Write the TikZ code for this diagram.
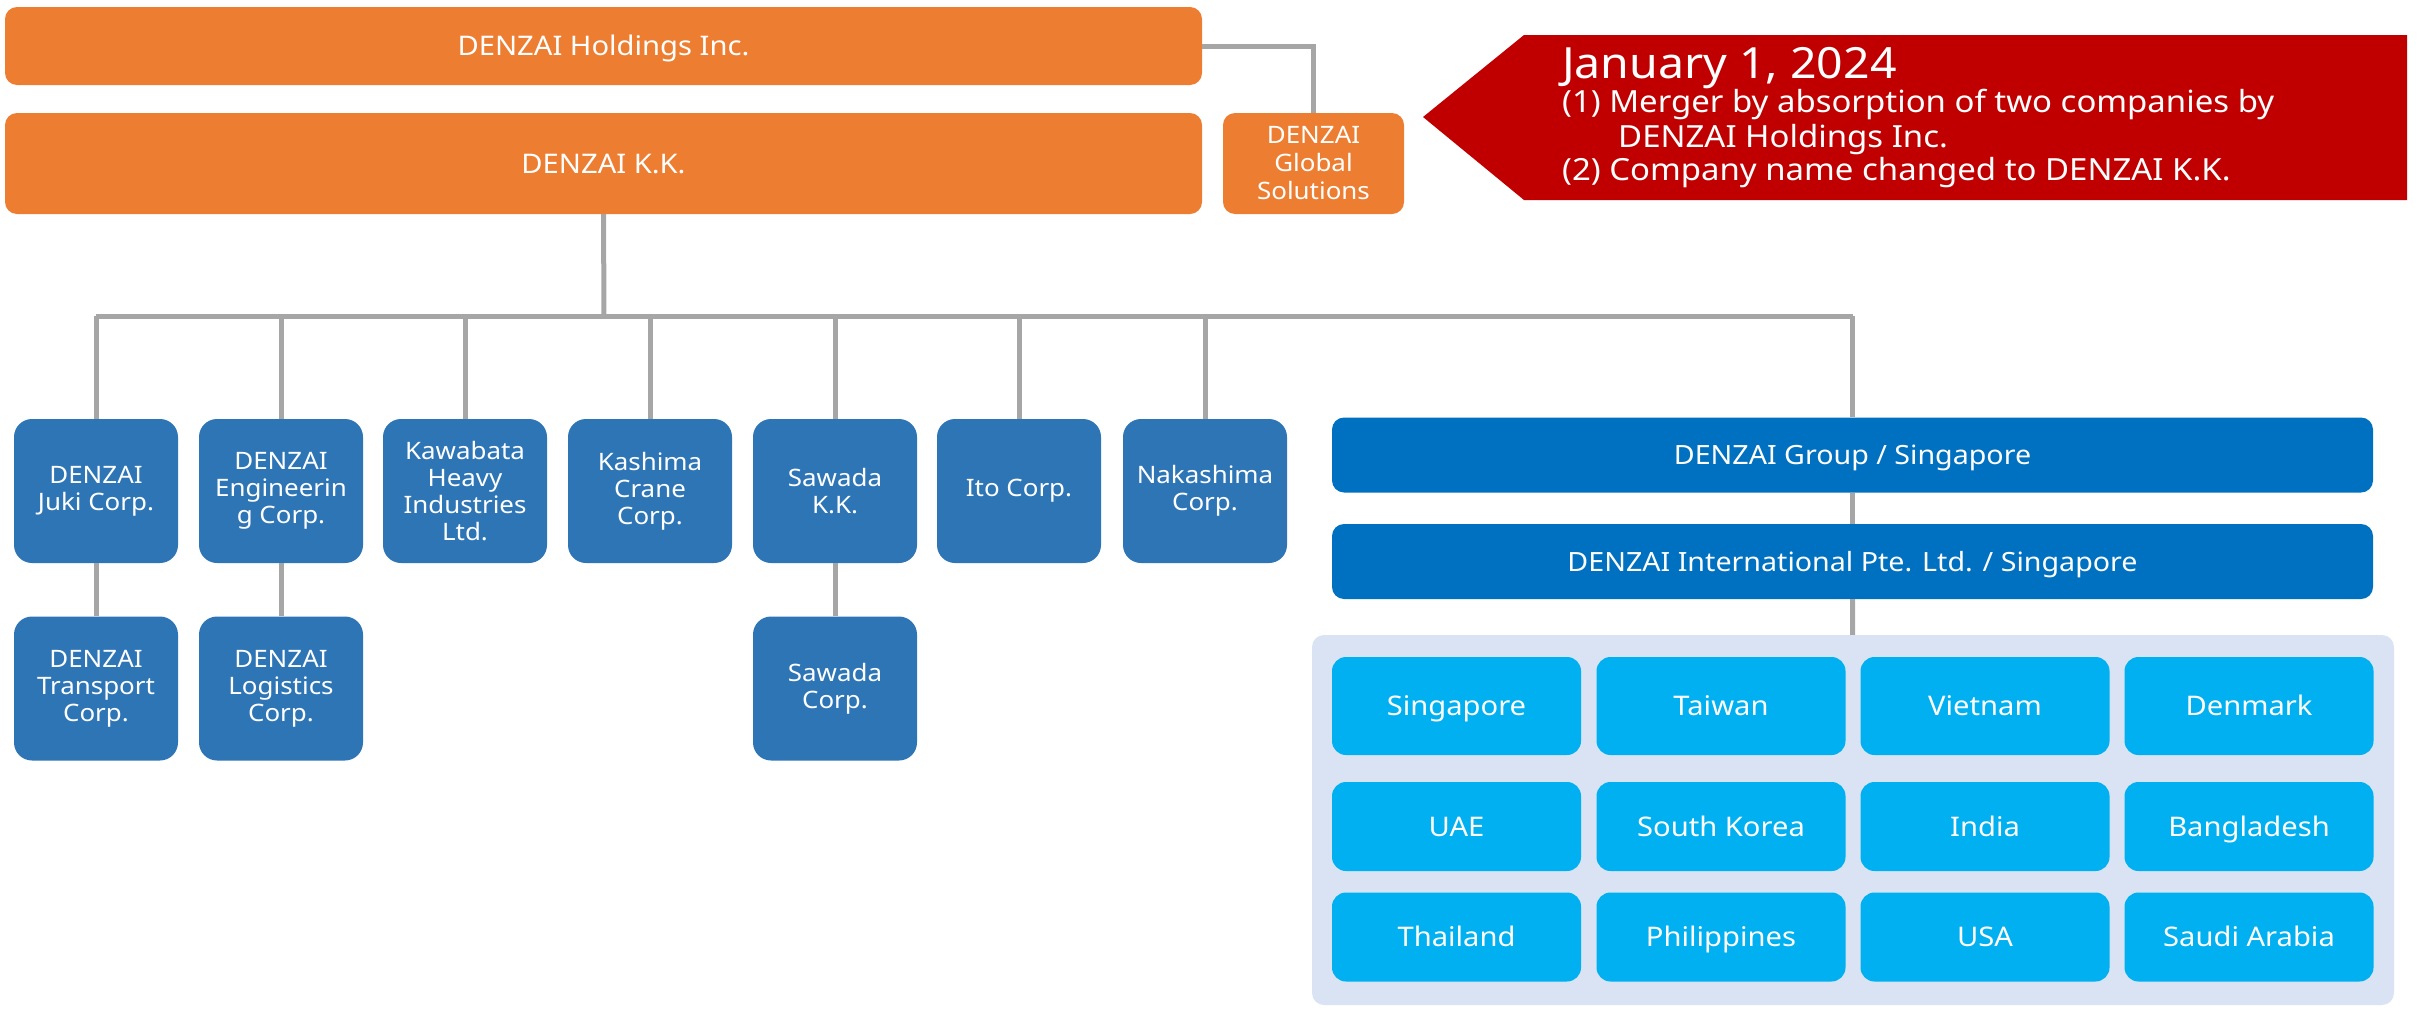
\documentclass[tikz,border=0pt]{standalone}
\usepackage{fontspec}
\setmainfont{Noto Sans}[FakeStretch=1.08]
\definecolor{dzorange}{HTML}{ED7D31}
\definecolor{dzblue}{HTML}{2E75B6}
\definecolor{dzgroup}{HTML}{0070C0}
\definecolor{dzcountry}{HTML}{00B0F0}
\definecolor{dzpanel}{HTML}{DAE3F3}
\definecolor{dzred}{HTML}{C00000}
\definecolor{dzgray}{HTML}{A6A6A6}
\begin{document}
\begin{tikzpicture}[
	x = 1pt, y = -1pt,
	every node/.style = {inner sep = 0pt, align = center, text = white},
	oneline/.style = {text height = 19.3pt, text depth = 0pt},
	headbox/.style = {fill = dzorange, rounded corners = 12pt, font = \fontsize{27}{32}\selectfont},
	subbox/.style = {fill = dzblue, rounded corners = 18pt, minimum width = 164pt, minimum height = 144pt, font = \fontsize{24}{27}\selectfont},
	groupbox/.style = {oneline, fill = dzgroup, rounded corners = 12pt, minimum width = 1041pt, minimum height = 75pt, font = \fontsize{26.5}{30}\selectfont},
	countrybox/.style = {oneline, fill = dzcountry, rounded corners = 14pt, minimum width = 249pt, font = \fontsize{27}{30}\selectfont},
	notetext/.style = {anchor = base west, font = \fontsize{30.5}{34}\selectfont},
	conn/.style = {draw = dzgray, line width = 5pt}]

	\useasboundingbox (0,0) rectangle (2420,1009);

	% top of the group
	\node[headbox, oneline, minimum width = 1197pt, minimum height = 78pt] (hold) at (603.5,46) {DENZAI Holdings Inc.};
	\node[headbox, oneline, minimum width = 1197pt, minimum height = 101pt] (kk) at (603.5,163.5) {DENZAI K.K.};
	\node[headbox, minimum width = 181pt, minimum height = 101pt, font = \fontsize{24}{28}\selectfont] (glob) at (1313.5,163.5) {DENZAI\\Global\\Solutions};
	\draw[conn] (hold.east) -| (glob.north);

	% callout
	\fill[dzred] (1423,117) -- (1524,35) -- (2407,35) -- (2407,200) -- (1524,200) -- cycle;
	\node[notetext, font = \fontsize{43}{46}\selectfont] (date) at (1562,78) {January 1, 2024};
	\node[notetext] (noteA) at (1562,112) {(1) Merger by absorption of two companies by};
	\node[notetext] (noteB) at (1618,147) {DENZAI Holdings Inc.};
	\node[notetext] (noteC) at (1562,180) {(2) Company name changed to DENZAI K.K.};

	% subsidiaries
	\coordinate (bus) at (604,316);
	\node[subbox] (juki) at (96,491) {DENZAI\\Juki Corp.};
	\node[subbox] (eng) at (281,491) {DENZAI\\Engineerin\\g Corp.};
	\node[subbox] (kawa) at (465,491) {Kawabata\\Heavy\\Industries\\Ltd.};
	\node[subbox] (kashi) at (650,491) {Kashima\\Crane\\Corp.};
	\node[subbox] (sawkk) at (835,491) {Sawada\\K.K.};
	\node[subbox] (ito) at (1019,491) {Ito Corp.};
	\node[subbox] (naka) at (1205,491) {Nakashima\\Corp.};

	\node[subbox] (trans) at (96,688.5) {DENZAI\\Transport\\Corp.};
	\node[subbox] (logi) at (281,688.5) {DENZAI\\Logistics\\Corp.};
	\node[subbox] (sawcorp) at (835,688.5) {Sawada\\Corp.};

	% overseas
	\node[groupbox] (grp) at (1852.5,455) {DENZAI Group / Singapore};
	\node[groupbox] (intl) at (1852.5,561.5) {DENZAI International Pte. Ltd. / Singapore};
	\node[fill = dzpanel, rounded corners = 12pt, minimum width = 1082pt, minimum height = 370pt] (panel) at (1853,820) {};

	\node[countrybox, minimum height = 98pt] (sg) at (1456.5,706) {Singapore};
	\node[countrybox, minimum height = 98pt] (tw) at (1721,706) {Taiwan};
	\node[countrybox, minimum height = 98pt] (vn) at (1985,706) {Vietnam};
	\node[countrybox, minimum height = 98pt] (dk) at (2249,706) {Denmark};
	\node[countrybox, minimum height = 89pt] (uae) at (1456.5,826.5) {UAE};
	\node[countrybox, minimum height = 89pt] (kr) at (1721,826.5) {South Korea};
	\node[countrybox, minimum height = 89pt] (in) at (1985,826.5) {India};
	\node[countrybox, minimum height = 89pt] (bd) at (2249,826.5) {Bangladesh};
	\node[countrybox, minimum height = 89pt] (th) at (1456.5,937) {Thailand};
	\node[countrybox, minimum height = 89pt] (ph) at (1721,937) {Philippines};
	\node[countrybox, minimum height = 89pt] (us) at (1985,937) {USA};
	\node[countrybox, minimum height = 89pt] (sa) at (2249,937) {Saudi Arabia};

	% connectors
	\draw[conn] (kk.south) -- (bus);
	\draw[conn] (juki.north |- bus) -- (grp.north |- bus);
	\draw[conn] (juki.north) -- (juki.north |- bus);
	\draw[conn] (eng.north) -- (eng.north |- bus);
	\draw[conn] (kawa.north) -- (kawa.north |- bus);
	\draw[conn] (kashi.north) -- (kashi.north |- bus);
	\draw[conn] (sawkk.north) -- (sawkk.north |- bus);
	\draw[conn] (ito.north) -- (ito.north |- bus);
	\draw[conn] (naka.north) -- (naka.north |- bus);
	\draw[conn] (grp.north) -- (grp.north |- bus);
	\draw[conn] (juki) -- (trans);
	\draw[conn] (eng) -- (logi);
	\draw[conn] (sawkk) -- (sawcorp);
	\draw[conn] (grp) -- (intl);
	\draw[conn] (intl) -- (panel);

\end{tikzpicture}
\end{document}
